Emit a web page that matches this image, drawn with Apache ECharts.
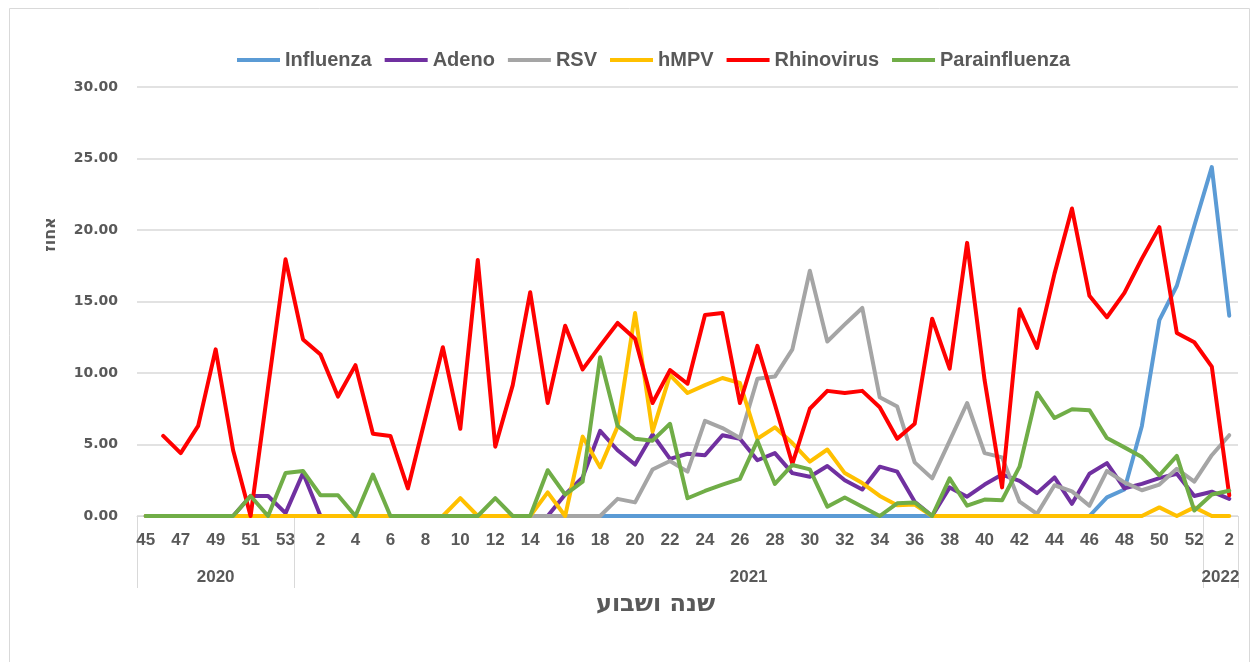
<!DOCTYPE html>
<html>
<head>
<meta charset="utf-8">
<script src="https://cdn.jsdelivr.net/npm/echarts@6/dist/echarts.min.js"></script>
<style>
  html, body { margin: 0; padding: 0; background: #ffffff; }
  #chart { width: 1251px; height: 662px; }
</style>
</head>
<body>
<div id="chart"></div>
<script>
// ---- tick labels ----
const weeks2020 = ['45','46','47','48','49','50','51','52','53'];
const weeks2021 = ['1','2','3','4','5','6','7','8','9','10','11','12','13','14','15','16','17','18','19','20',
  '21','22','23','24','25','26','27','28','29','30','31','32','33','34','35','36','37','38','39','40',
  '41','42','43','44','45','46','47','48','49','50','51','52'];
const weeks2022 = ['1','2'];
const years = ['2020', '2021', '2022'];
const yTicks = [0, 5, 10, 15, 20, 25, 30];

// ---- series values (percent) ----
const influenza = [0,0,0,0,0,0,0,0,0, 0,0,0,0,0,0,0,0,0,0,0, 0,0,0,0,0,0,0,0,0,0, 0,0,0,0,0,0,0,0,0,0,
  0,0,0,0,0,0,0,0,0,0, 0,0,0,0,0,1.3,1.85,6.3,13.7,16.1, 20.3,24.4,14.0];
const adeno = [0,0,0,0,0,0,1.4,1.4,0.2, 3.0,0,0,0,0,0,0,0,0,0,0, 0,0,0,0,1.5,2.7,5.95,4.6,3.6,5.7,
  4.0,4.35,4.25,5.65,5.4,3.9,4.4,3.0,2.75,3.5, 2.5,1.85,3.45,3.1,1.0,0,2.0,1.35,2.2,2.9,
  2.45,1.6,2.7,0.85,2.95,3.7,1.93,2.25,2.65,2.95, 1.4,1.7,1.2];
const rsv = [0,0,0,0,0,0,0,0,0, 0,0,0,0,0,0,0,0,0,0,0, 0,0,0,0,0,0,0,1.2,0.95,3.25,
  3.85,3.1,6.65,6.15,5.45,9.6,9.75,11.65,17.15,12.2, 13.4,14.55,8.3,7.65,3.75,2.63,5.25,7.9,4.4,4.1,
  1.0,0.15,2.15,1.72,0.72,3.15,2.35,1.8,2.2,3.3, 2.4,4.25,5.65];
const hmpv = [0,0,0,0,0,0,0,0,0, 0,0,0,0,0,0,0,0,0,1.25,0, 0,0,0,1.65,0,5.55,3.4,6.25,14.2,5.9,
  9.85,8.6,9.15,9.65,9.3,5.4,6.2,5.1,3.8,4.65, 3.0,2.3,1.4,0.75,0.8,0,0,0,0,0,
  0,0,0,0,0,0,0,0,0.6,0, 0.6,0,0];
const rhinovirus = [null,5.6,4.4,6.3,11.65,4.6,0,9.0,17.95, 12.35,11.3,8.35,10.55,5.75,5.6,1.93,6.85,11.8,6.1,17.9,
  4.85,9.15,15.65,7.9,13.3,10.25,11.9,13.5,12.4,7.9, 10.2,9.25,14.05,14.2,7.9,11.9,7.8,3.65,7.5,8.75,
  8.6,8.75,7.6,5.4,6.45,13.8,10.3,19.1,9.5,2.0, 14.45,11.75,16.95,21.5,15.4,13.9,15.6,18.0,20.2,12.8,
  12.15,10.45,1.45];
const parainfluenza = [0,0,0,0,0,0,1.4,0,3.0, 3.15,1.45,1.45,0,2.9,0,0,0,0,0,0, 1.25,0,0,3.2,1.5,2.4,11.1,6.3,5.4,5.27,
  6.45,1.24,1.75,2.2,2.6,5.27,2.24,3.57,3.26,0.65, 1.3,0.65,0,0.89,0.95,0,2.63,0.72,1.15,1.1,
  3.45,8.62,6.85,7.47,7.4,5.45,4.8,4.12,2.85,4.2, 0.38,1.5,1.77];

const seriesNames = ['Influenza', 'Adeno', 'RSV', 'hMPV', 'Rhinovirus', 'Parainfluenza'];
const seriesValues = [influenza, adeno, rsv, hmpv, rhinovirus, parainfluenza];
const seriesColors = ['#5B9BD5', '#7030A0', '#A5A5A5', '#FFC000', '#FF0000', '#70AD47'];

// ---- derived axis data ----
const weekGroups = [weeks2020, weeks2021, weeks2022];
const weekLabels = [].concat(...weekGroups);
// year axis: half-category slots so group centres and group borders fall on points
const yearAxisData = new Array(weekLabels.length * 2 + 1).fill('');
const yearBorders = [0];
let cum = 0;
weekGroups.forEach((g, k) => {
  yearAxisData[2 * cum + g.length] = years[k];
  cum += g.length;
  yearBorders.push(2 * cum);
});

const textColor = '#595959';
const latin = '"Liberation Sans", Arial, sans-serif';
const hebrew = '"DejaVu Sans", "Liberation Sans", sans-serif';

const chart = echarts.init(document.getElementById('chart'));
chart.setOption({
  animation: false,
  backgroundColor: '#ffffff',
  graphic: [{
    type: 'rect', left: 7, top: 6, z: -1,
    shape: { width: 1240, height: 680 },
    style: { fill: 'none', stroke: '#d9d9d9', lineWidth: 1 }
  }],
  legend: {
    data: seriesNames,
    left: 232, top: 45,
    icon: 'rect',
    itemWidth: 43, itemHeight: 4, itemGap: 13,
    textStyle: { color: textColor, fontSize: 20, fontWeight: 'bold', fontFamily: latin }
  },
  grid: { left: 137, right: 13, top: 87, bottom: 146, containLabel: false },
  xAxis: [{
    type: 'category',
    data: weekLabels,
    boundaryGap: true,
    name: 'שנה ושבוע',
    nameLocation: 'middle',
    nameGap: 77,
    nameTextStyle: { color: textColor, fontSize: 24, fontWeight: 'bold', fontFamily: hebrew, padding: [0, 64, 0, 0] },
    axisLine: { show: true, lineStyle: { color: '#d9d9d9', width: 1 } },
    axisTick: { show: false },
    axisLabel: { interval: 1, margin: 16, color: textColor, fontSize: 17, fontWeight: 'bold', fontFamily: latin },
    splitLine: { show: false }
  }, {
    type: 'category',
    data: yearAxisData,
    boundaryGap: false,
    position: 'bottom',
    axisLine: { show: false },
    axisTick: {
      show: true, length: 72,
      interval: (idx) => yearBorders.includes(idx),
      lineStyle: { color: '#d9d9d9', width: 1 }
    },
    axisLabel: { interval: 0, margin: 53, color: textColor, fontSize: 17, fontWeight: 'bold', fontFamily: latin },
    splitLine: { show: false }
  }],
  yAxis: {
    type: 'value',
    min: yTicks[0], max: yTicks[yTicks.length - 1], interval: yTicks[1] - yTicks[0],
    name: 'אחוז',
    nameLocation: 'middle',
    nameGap: 78,
    nameTextStyle: { color: textColor, fontSize: 16, fontWeight: 'bold', fontFamily: hebrew, padding: [0, 0, 0, 134] },
    axisLine: { show: false },
    axisTick: { show: false },
    axisLabel: {
      margin: 19, color: textColor, fontSize: 14, fontWeight: 'bold',
      fontFamily: '"DejaVu Sans", Verdana, sans-serif',
      formatter: (v) => v.toFixed(2)
    },
    splitLine: { lineStyle: { color: '#d9d9d9', width: 1.5 } }
  },
  series: seriesNames.map((name, k) => ({
    name: name,
    type: 'line',
    xAxisIndex: 0,
    data: seriesValues[k],
    symbol: 'none',
    color: seriesColors[k],
    lineStyle: { width: 4, color: seriesColors[k], join: 'round', cap: 'round' }
  }))
});
</script>
</body>
</html>
